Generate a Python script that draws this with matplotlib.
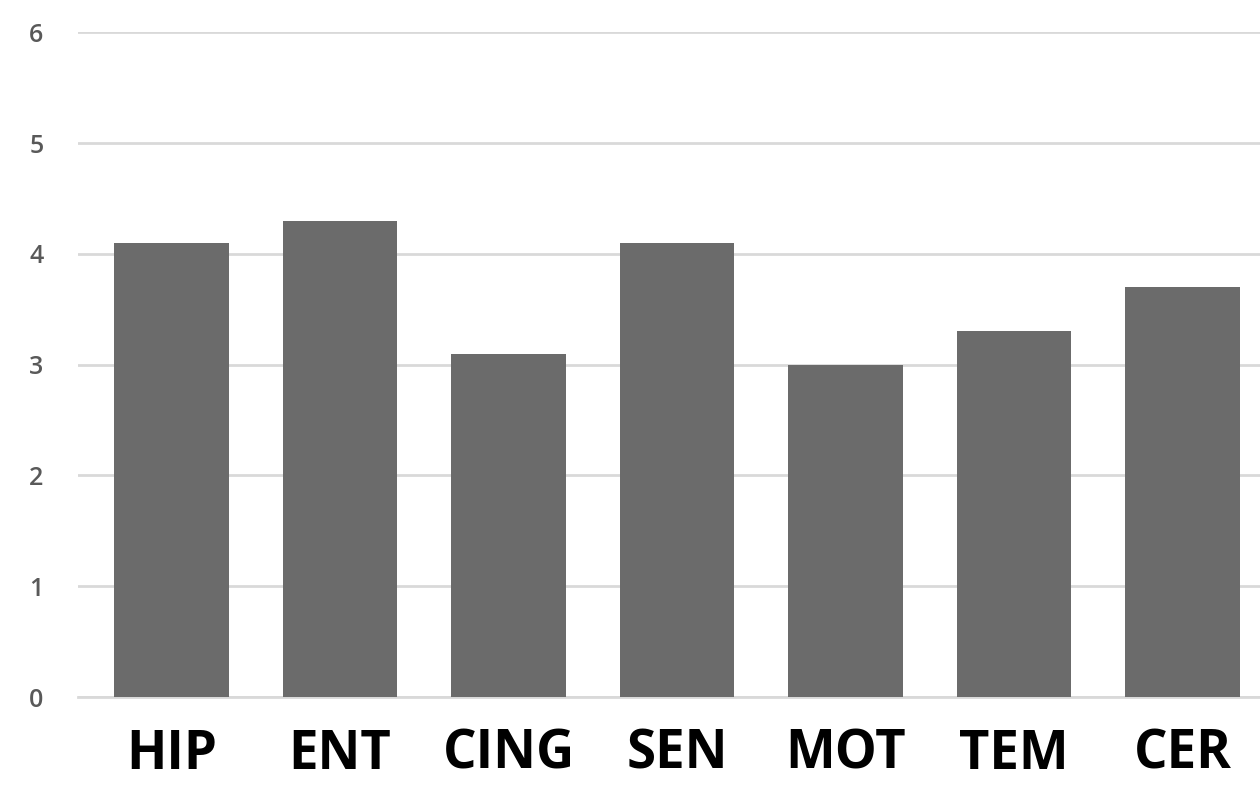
import matplotlib.pyplot as plt

# regions and mean scores
regions = ['HIP', 'ENT', 'CING', 'SEN', 'MOT', 'TEM', 'CER']
scores = [4.1, 4.3, 3.1, 4.1, 3.0, 3.3, 3.7]
yticks = [0, 1, 2, 3, 4, 5, 6]

fig = plt.figure(figsize=(12.6, 7.85), dpi=100)
ax = fig.add_axes([0.062, 0.112, 0.938, 0.847])

ax.bar(range(len(regions)), scores, width=0.68, color='#6b6b6b', zorder=3)

ax.set_ylim(0, 6)
ax.set_xlim(-0.555, 6.46)
ax.set_yticks(yticks)
ax.set_xticks(range(len(regions)))
ax.set_xticklabels(regions, fontsize=38, fontweight='bold', family='Open Sans', color='black')
ax.tick_params(axis='y', labelsize=18, colors='#595959', length=0, pad=25)
ax.tick_params(axis='x', length=0, pad=22)
for lbl in ax.get_yticklabels():
    lbl.set_color('#595959')
    lbl.set_family('Open Sans')
    lbl.set_fontweight('semibold')

ax.grid(axis='y', color='#d9d9d9', linewidth=2, zorder=0)
for s in ['top', 'right', 'left']:
    ax.spines[s].set_visible(False)
ax.spines['bottom'].set_color('#d9d9d9')
ax.spines['bottom'].set_linewidth(2)

fig.savefig('out.png', dpi=100)
